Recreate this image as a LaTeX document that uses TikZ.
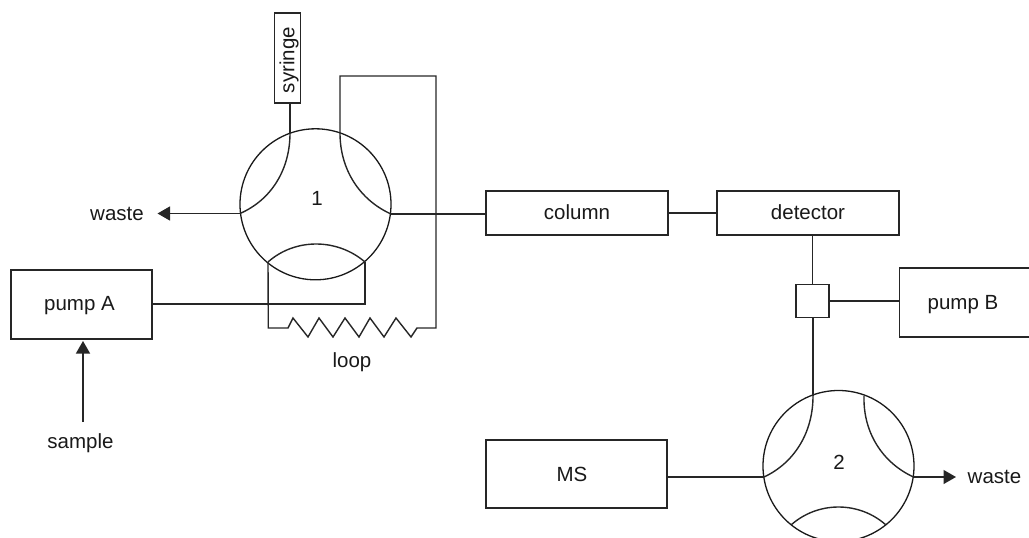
\documentclass[tikz,border=0pt]{standalone}
\usepackage{fontspec}
\setmainfont{Liberation Sans}
\usetikzlibrary{arrows.meta}
\tikzset{
  box/.style={draw=black!85,line width=1.4pt,inner sep=0pt,fill=white},
  valve/.style={draw=black!90,circle,line width=1.3pt,minimum size=151pt,inner sep=0pt},
  lab/.style={inner sep=0pt,font=\fontsize{20.5}{20.5}\selectfont,text=black!90},
  pipe/.style={draw=black!85,line width=1.4pt},
  tipped/.style={pipe,-{Triangle[length=12.5pt,width=14pt]}},
}
\begin{document}
\begin{tikzpicture}[x=1pt,y=-1pt]
\clip (0,0) rectangle (1029,538);
\useasboundingbox (0,0) rectangle (1029,538);
% coordinates
\coordinate (a1) at (290,133); \coordinate (a2) at (240,213.5);
\coordinate (a3) at (340,133); \coordinate (a4) at (391,214);
\coordinate (a5) at (268,262); \coordinate (a6) at (365,262);
\coordinate (b1) at (813,396); \coordinate (b2) at (764,477);
\coordinate (b3) at (864,396); \coordinate (b4) at (913.5,477);
\coordinate (b5) at (791,525); \coordinate (b6) at (886,525);
\coordinate (wasteA) at (157.5,213.5); \coordinate (wasteB) at (956,477);
\coordinate (sampleEnd) at (83,341); \coordinate (sampleStart) at (83,422);
% valves
\node[valve] (v1) at (315.5,204.3) {};
\node[valve] (v2) at (838.5,466) {};
% boxes
\node[box,minimum width=25.5pt,minimum height=90pt] (syr) at (287.5,58) {};
\node[lab,rotate=90] (syrt) at (289,60) {syringe};
\node[box,minimum width=141pt,minimum height=69pt] (pa) at (81.5,304.5) {};
\node[lab] (pat) at (79.5,306) {pump A};
\node[box,minimum width=182pt,minimum height=44pt] (col) at (577,213) {};
\node[lab] (colt) at (577,212.5) {column};
\node[box,minimum width=182pt,minimum height=44pt] (det) at (808,213) {};
\node[lab] (dett) at (808,212.5) {detector};
\node[box,minimum width=33pt,minimum height=32.5pt] (tee) at (812.5,301) {};
\node[box,minimum width=181pt,minimum height=68pt] (ms) at (576.5,474) {};
\node[lab] (mst) at (572,474) {MS};
% pump B (open at the right edge)
\coordinate (pbTop) at (1029,268); \coordinate (pbTL) at (899.5,268);
\coordinate (pbBL) at (899.5,337); \coordinate (pbBot) at (1029,337);
\draw[pipe] (pbTop) -- (pbTL) -- (pbBL) -- (pbBot);
\node[lab] (pbt) at (963,305) {pump B};
% labels
\node[lab] (one) at (317,198) {1};
\node[lab] (two) at (839,462) {2};
\node[lab] (w1) at (117,213.5) {waste};
\node[lab] (w2) at (994.5,476.5) {waste};
\node[lab] (samp) at (80.5,443) {sample};
\node[lab] (loopt) at (352,362) {loop};
% valve passages
\draw[pipe] (a1) .. controls (290,170) and (271,200) .. (a2);
\draw[pipe] (a3) .. controls (340,170) and (360,200) .. (a4);
\draw[pipe] (a5) .. controls (295,238) and (337,238) .. (a6);
\draw[pipe] (b1) .. controls (813,433) and (794,463) .. (b2);
\draw[pipe] (b3) .. controls (863,433) and (883,463) .. (b4);
\draw[pipe] (b5) .. controls (818,501) and (859,501) .. (b6);
% connectors
\draw[pipe] (syr.south -| a1) -- (a1);
\draw[pipe] (a3) -- (340,76) -- (436,76) -- (436,328) -- (417,328)
  -- (411,337) -- (396,318) -- (384,337) -- (370,318) -- (359,337) -- (345,318)
  -- (333,337) -- (319,318) -- (308,337) -- (293,318) -- (288,328) -- (268.3,328) -- (a5);
\draw[pipe] (pa.east |- 0,304) -- (365,304) -- (a6);
\draw[tipped] (a2) -- (wasteA);
\draw[tipped] (sampleStart) -- (sampleEnd);
\draw[pipe] (a4) -- (col.west |- a4);
\draw[pipe] (col.east) -- (det.west);
\draw[pipe] (det.south -| tee.north) -- (tee.north);
\draw[pipe] (tee.east) -- (pbTL |- tee.east);
\draw[pipe] (tee.south -| b1) -- (b1);
\draw[pipe] (ms.east |- b2) -- (b2);
\draw[tipped] (b4) -- (wasteB);
\end{tikzpicture}
\end{document}
